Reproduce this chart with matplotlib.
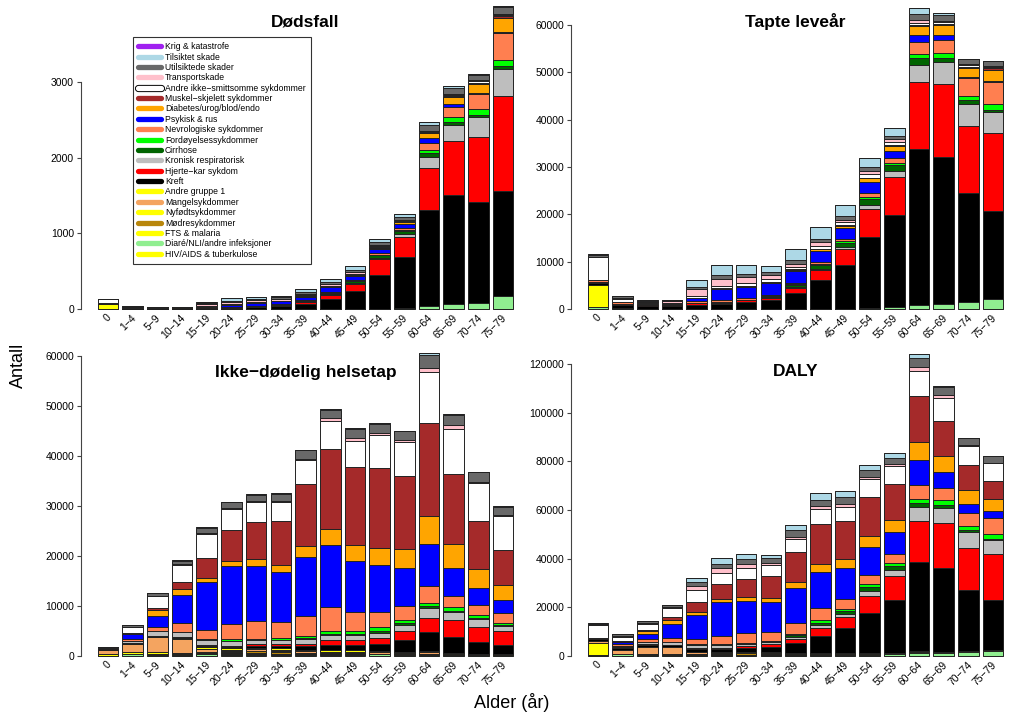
import matplotlib
matplotlib.use('Agg')
import matplotlib.pyplot as plt
import matplotlib.patheffects as pe
from matplotlib.lines import Line2D
from matplotlib.transforms import offset_copy

plt.rcParams['font.family'] = ['Liberation Sans', 'DejaVu Sans']

W, H = 1024, 728

ages = ['0', '1−4', '5−9', '10−14', '15−19', '20−24', '25−29', '30−34', '35−39',
        '40−44', '45−49', '50−54', '55−59', '60−64', '65−69', '70−74', '75−79']

# kategorier fra bunn til topp i stabelen
categories = ['HIV/AIDS & tuberkulose', 'Diaré/NLI/andre infeksjoner', 'FTS & malaria',
              'Mødresykdommer', 'Nyfødtsykdommer', 'Mangelsykdommer', 'Andre gruppe 1',
              'Kreft', 'Hjerte−kar sykdom', 'Kronisk respiratorisk', 'Cirrhose',
              'Fordøyelsessykdommer', 'Nevrologiske sykdommer', 'Psykisk & rus',
              'Diabetes/urog/blod/endo', 'Muskel−skjelett sykdommer',
              'Andre ikke−smittsomme sykdommer', 'Transportskade', 'Utilsiktede skader',
              'Tilsiktet skade', 'Krig & katastrofe']
colors = ['#FFFF00', '#90EE90', '#FFFF00', '#B8860B', '#FFFF00', '#F4A460', '#FFFF00',
          '#000000', '#FF0000', '#BEBEBE', '#006400', '#00FF00', '#FF7F50', '#0000FF',
          '#FFA500', '#A52A2A', '#FFFFFF', '#FFC0CB', '#696969', '#ADD8E6', '#A020F0']

# --- Dødsfall ---
dod_hiv = [0] * 17
dod_diare = [3, 2, 1, 0, 0, 0, 0, 0, 0, 0, 0, 5, 10, 40, 66, 84, 172]
dod_fts = [0] * 17
dod_modre = [0] * 17
dod_nyfodt = [60, 1, 0, 0, 0, 0, 0, 0, 0, 0, 0, 0, 0, 0, 0, 0, 0]
dod_mangel = [0] * 17
dod_andre1 = [3, 0, 0, 0, 0, 0, 0, 0, 0, 0, 0, 0, 0, 0, 0, 0, 0]
dod_kreft = [5, 8, 10, 10, 12, 18, 25, 40, 70, 132, 242, 440, 680, 1270, 1441, 1335, 1388]
dod_hjerte = [4, 2, 1, 2, 4, 5, 7, 10, 25, 53, 88, 210, 265, 551, 718, 859, 1260]
dod_kron = [0, 0, 0, 0, 1, 2, 2, 3, 5, 10, 20, 25, 35, 145, 207, 256, 348]
dod_cirr = [0, 0, 0, 0, 0, 0, 1, 3, 8, 15, 20, 30, 40, 53, 44, 31, 44]
dod_ford = [0, 0, 0, 0, 0, 1, 2, 2, 3, 5, 5, 10, 15, 44, 66, 75, 79]
dod_nevro = [4, 6, 5, 6, 6, 7, 8, 8, 8, 10, 10, 20, 25, 88, 123, 203, 361]
dod_psyk = [0, 0, 0, 1, 8, 25, 35, 35, 45, 62, 53, 55, 50, 66, 44, 10, 10]
dod_diab = [0, 0, 0, 1, 2, 3, 3, 3, 5, 8, 10, 15, 25, 66, 97, 123, 189]
dod_musk = [0, 0, 0, 0, 0, 1, 1, 2, 2, 3, 5, 5, 5, 10, 10, 15, 15]
dod_andre_ikke = [55, 8, 4, 4, 5, 6, 6, 6, 8, 8, 10, 15, 15, 15, 12, 20, 20]
dod_transp = [1, 3, 3, 4, 25, 28, 25, 20, 25, 20, 20, 20, 15, 10, 9, 9, 9]
dod_utils = [2, 5, 3, 3, 10, 15, 22, 20, 25, 30, 35, 35, 40, 75, 79, 75, 101]
dod_tilsikt = [0, 0, 0, 2, 20, 30, 25, 20, 30, 40, 44, 35, 35, 44, 31, 10, 5]
dod_krig = [0] * 17

# --- Tapte leveår ---
yll_hiv = [0] * 17
yll_diare = [500, 150, 0, 0, 0, 0, 0, 0, 0, 50, 100, 200, 500, 920, 1130, 1410, 2110]
yll_fts = [0] * 17
yll_modre = [0] * 17
yll_nyfodt = [4500, 0, 0, 0, 0, 0, 0, 0, 0, 0, 0, 0, 0, 0, 0, 0, 0]
yll_mangel = [0] * 17
yll_andre1 = [0] * 17
yll_kreft = [500, 700, 700, 650, 900, 1000, 1400, 1800, 3400, 6000, 9100, 15000, 19400, 32900, 31000, 23100, 18500]
yll_hjerte = [200, 150, 50, 100, 300, 300, 400, 600, 1050, 2100, 3500, 6000, 7900, 14100, 15500, 14200, 16550]
yll_kron = [50, 0, 0, 0, 50, 50, 50, 50, 150, 300, 400, 850, 1400, 3700, 4500, 4650, 4450]
yll_cirr = [0, 0, 0, 0, 0, 50, 100, 150, 450, 800, 900, 1250, 1270, 1400, 900, 700, 500]
yll_ford = [0, 0, 0, 0, 0, 50, 50, 50, 150, 300, 300, 400, 400, 850, 1050, 1000, 1250]
yll_nevro = [300, 500, 350, 300, 400, 450, 400, 350, 300, 400, 500, 850, 1000, 2450, 2800, 3700, 4700]
yll_psyk = [0, 0, 0, 50, 600, 2250, 2300, 2500, 2500, 2300, 2300, 2200, 1600, 1600, 1050, 200, 150]
yll_diab = [0, 0, 0, 0, 100, 200, 200, 250, 300, 400, 500, 850, 1000, 1900, 2100, 1900, 2250]
yll_musk = [0, 0, 0, 0, 0, 50, 50, 50, 50, 100, 100, 150, 200, 250, 250, 350, 350]
yll_andre_ikke = [4900, 600, 200, 200, 300, 400, 500, 500, 500, 600, 600, 800, 700, 250, 250, 350, 350]
yll_transp = [100, 250, 200, 300, 1500, 1600, 1250, 800, 700, 800, 600, 500, 500, 700, 400, 200, 100]
yll_utils = [300, 400, 250, 200, 600, 700, 700, 700, 900, 700, 800, 900, 700, 1250, 1200, 1050, 1050]
yll_tilsikt = [200, 0, 50, 150, 1400, 2250, 2000, 1300, 2300, 2500, 2300, 1900, 1600, 1250, 500, 100, 100]
yll_krig = [0] * 17

# --- Ikke-dødelig helsetap ---
yld_hiv = [0, 0, 0, 0, 100, 150, 150, 150, 150, 150, 150, 100, 100, 100, 50, 50, 50]
yld_diare = [100, 500, 300, 300, 300, 300, 300, 250, 250, 250, 250, 250, 200, 200, 150, 100, 100]
yld_fts = [0, 0, 100, 100, 100, 100, 100, 100, 100, 100, 100, 100, 50, 50, 50, 50, 50]
yld_modre = [0, 0, 0, 0, 100, 300, 500, 400, 200, 100, 50, 0, 0, 0, 0, 0, 0]
yld_nyfodt = [300, 300, 400, 300, 200, 100, 50, 50, 0, 0, 0, 0, 0, 0, 0, 0, 0]
yld_mangel = [800, 1600, 3000, 2800, 700, 300, 300, 300, 300, 300, 300, 300, 300, 400, 200, 150, 100]
yld_andre1 = [50, 100, 100, 150, 300, 300, 300, 300, 300, 300, 300, 200, 200, 200, 100, 100, 100]
yld_kreft = [50, 50, 100, 150, 200, 250, 350, 450, 700, 1000, 1100, 1500, 2400, 3800, 3300, 2300, 1900]
yld_hjerte = [20, 50, 50, 100, 200, 250, 300, 350, 500, 1000, 900, 1100, 1700, 2850, 3300, 3100, 2650]
yld_kron = [0, 400, 900, 900, 1100, 1000, 800, 800, 900, 1000, 1000, 1100, 1300, 2100, 1700, 1650, 1100]
yld_cirr = [0, 0, 0, 0, 0, 50, 50, 100, 150, 250, 300, 400, 400, 300, 200, 150, 100]
yld_ford = [0, 50, 50, 100, 200, 300, 300, 350, 400, 600, 600, 700, 600, 700, 800, 550, 450]
yld_nevro = [200, 300, 850, 1650, 1800, 3100, 3450, 3300, 4000, 4800, 3700, 3100, 2800, 3300, 2200, 2000, 2100]
yld_psyk = [0, 1000, 2250, 5650, 9500, 11500, 11000, 9900, 11800, 12400, 10200, 9300, 7500, 8500, 5600, 3450, 2500]
yld_diab = [0, 100, 1050, 1300, 870, 1050, 1400, 1450, 2200, 3100, 3200, 3500, 3800, 5600, 4700, 3850, 3000]
yld_musk = [0, 100, 450, 1300, 4000, 6250, 7450, 8850, 12400, 16100, 15600, 15900, 14600, 18600, 14100, 9600, 7000]
yld_andre_ikke = [300, 1300, 2450, 3500, 4800, 4200, 4000, 3800, 4850, 5500, 5300, 6600, 6800, 10200, 9000, 7600, 6800]
yld_transp = [0, 50, 50, 100, 200, 200, 200, 200, 250, 650, 650, 550, 450, 650, 800, 150, 150]
yld_utils = [0, 300, 450, 700, 1000, 1100, 1300, 1350, 1700, 1700, 1800, 1800, 1800, 2700, 2000, 1900, 1750]
yld_tilsikt = [0, 0, 0, 50, 100, 100, 100, 100, 100, 150, 150, 150, 100, 300, 100, 50, 50]
yld_krig = [0] * 17

# --- DALY ---
daly_hiv = [0, 0, 0, 0, 100, 150, 150, 150, 150, 150, 150, 100, 100, 100, 50, 50, 50]
daly_diare = [600, 650, 300, 300, 300, 300, 300, 250, 250, 300, 350, 450, 700, 1120, 1280, 1510, 2210]
daly_fts = [0, 0, 100, 100, 100, 100, 100, 100, 100, 100, 100, 100, 50, 50, 50, 50, 50]
daly_modre = [0, 0, 0, 0, 100, 300, 500, 400, 200, 100, 50, 0, 0, 0, 0, 0, 0]
daly_nyfodt = [4800, 300, 400, 300, 200, 100, 50, 50, 0, 0, 0, 0, 0, 0, 0, 0, 0]
daly_mangel = [800, 1600, 3000, 2800, 700, 300, 300, 300, 300, 300, 300, 300, 300, 400, 200, 150, 100]
daly_andre1 = [50, 100, 100, 150, 300, 300, 300, 300, 300, 300, 300, 200, 200, 200, 100, 100, 100]
daly_kreft = [550, 750, 800, 800, 1100, 1250, 1750, 2250, 4100, 7000, 10200, 16500, 21800, 36700, 34300, 25400, 20400]
daly_hjerte = [220, 200, 100, 200, 500, 550, 700, 950, 1550, 3100, 4400, 7100, 9600, 16950, 18800, 17300, 19200]
daly_kron = [50, 400, 900, 900, 1150, 1050, 850, 850, 1050, 1300, 1400, 1950, 2700, 5800, 6200, 6300, 5550]
daly_cirr = [0, 0, 0, 0, 0, 100, 150, 250, 600, 1050, 1200, 1650, 1670, 1700, 1100, 850, 600]
daly_ford = [0, 50, 50, 100, 200, 350, 350, 400, 550, 900, 900, 1100, 1000, 1550, 1850, 1550, 1700]
daly_nevro = [500, 800, 1200, 1950, 2200, 3550, 3850, 3650, 4300, 5200, 4200, 3950, 3800, 5750, 5000, 5700, 6800]
daly_psyk = [0, 1000, 2250, 5700, 10100, 13750, 13300, 12400, 14300, 14700, 12500, 11500, 9100, 10100, 6650, 3650, 2650]
daly_diab = [0, 100, 1050, 1300, 970, 1250, 1600, 1700, 2500, 3500, 3700, 4350, 4800, 7500, 6800, 5750, 5250]
daly_musk = [0, 100, 450, 1300, 4000, 6300, 7500, 8900, 12450, 16200, 15700, 16050, 14800, 18850, 14350, 9950, 7350]
daly_andre_ikke = [5200, 1900, 2650, 3700, 5100, 4600, 4500, 4300, 5350, 6100, 5900, 7400, 7500, 10450, 9250, 7950, 7150]
daly_transp = [100, 300, 250, 400, 1700, 1800, 1450, 1000, 950, 1450, 1250, 1050, 950, 1350, 1200, 350, 250]
daly_utils = [300, 700, 700, 900, 1600, 1800, 2000, 2050, 2600, 2400, 2600, 2700, 2500, 3950, 3200, 2950, 2800]
daly_tilsikt = [200, 0, 50, 200, 1500, 2350, 2100, 1400, 2400, 2650, 2450, 2050, 1700, 1550, 600, 150, 150]
daly_krig = [0] * 17

dodsfall = [dod_hiv, dod_diare, dod_fts, dod_modre, dod_nyfodt, dod_mangel, dod_andre1,
            dod_kreft, dod_hjerte, dod_kron, dod_cirr, dod_ford, dod_nevro, dod_psyk,
            dod_diab, dod_musk, dod_andre_ikke, dod_transp, dod_utils, dod_tilsikt, dod_krig]
tapte = [yll_hiv, yll_diare, yll_fts, yll_modre, yll_nyfodt, yll_mangel, yll_andre1,
         yll_kreft, yll_hjerte, yll_kron, yll_cirr, yll_ford, yll_nevro, yll_psyk,
         yll_diab, yll_musk, yll_andre_ikke, yll_transp, yll_utils, yll_tilsikt, yll_krig]
helsetap = [yld_hiv, yld_diare, yld_fts, yld_modre, yld_nyfodt, yld_mangel, yld_andre1,
            yld_kreft, yld_hjerte, yld_kron, yld_cirr, yld_ford, yld_nevro, yld_psyk,
            yld_diab, yld_musk, yld_andre_ikke, yld_transp, yld_utils, yld_tilsikt, yld_krig]
daly = [daly_hiv, daly_diare, daly_fts, daly_modre, daly_nyfodt, daly_mangel, daly_andre1,
        daly_kreft, daly_hjerte, daly_kron, daly_cirr, daly_ford, daly_nevro, daly_psyk,
        daly_diab, daly_musk, daly_andre_ikke, daly_transp, daly_utils, daly_tilsikt, daly_krig]

fig = plt.figure(figsize=(W / 100, H / 100), dpi=100)

# panel: (data, tittel, venstre px, topp px, bunn px, null px, px per enhet, yticks)
panels = [
    (dodsfall, 'Dødsfall', 81, 0, 321, 309, 227 / 3000, range(0, 3001, 1000)),
    (tapte, 'Tapte leveår', 571, 0, 321, 309, 284 / 60000, range(0, 60001, 10000)),
    (helsetap, 'Ikke−dødelig helsetap', 81, 340, 668, 656, 300 / 60000, range(0, 60001, 10000)),
    (daly, 'DALY', 571, 340, 668, 656, 292 / 120000, range(0, 120001, 20000)),
]

bar_step = 24.7
xlim = (-1.09, 17.09)
x = list(range(len(ages)))

for data, title, left, top, bottom, zero, ppu, yticks in panels:
    width_px = (xlim[1] - xlim[0]) * bar_step
    ax = fig.add_axes([left / W, 1 - bottom / H, width_px / W, (bottom - top) / H])

    cum = [0] * len(ages)
    for vals, c in zip(data, colors):
        ax.bar(x, vals, bottom=cum, width=0.8333, color=c, edgecolor='#222222', linewidth=0.7)
        cum = [a + b for a, b in zip(cum, vals)]

    ax.set_xlim(xlim)
    ax.set_ylim(-(bottom - zero) / ppu, (zero - top) / ppu)

    for s in ['top', 'right', 'bottom']:
        ax.spines[s].set_visible(False)
    ax.spines['left'].set_bounds(min(yticks), max(yticks))
    ax.spines['left'].set_color('#444444')
    ax.spines['left'].set_linewidth(0.8)
    ax.set_yticks(list(yticks))
    ax.tick_params(axis='y', direction='out', length=3, width=0.8, color='#444444',
                   labelsize=7.5, pad=2)
    ax.set_xticks([])

    # aldersgrupper, rotert 45 grader
    trans = offset_copy(ax.transData, fig=fig, x=2, y=-7, units='dots')
    for i, lab in enumerate(ages):
        ax.text(i, 0, lab, transform=trans, rotation=45, ha='right', va='center',
                rotation_mode='anchor', fontsize=7.5)

    fig.text((left + width_px / 2) / W, 1 - (top + 22 if top == 0 else top + 32) / H, title,
             ha='center', va='center', fontsize=12.5, fontweight='bold')

# forklaring
handles = []
for c, lab in zip(colors[::-1], categories[::-1]):
    h = Line2D([0], [0], color=c, lw=3.8, solid_capstyle='round')
    if c == '#FFFFFF':
        h.set_path_effects([pe.Stroke(linewidth=5.2, foreground='black'), pe.Normal()])
    handles.append(h)
leg = fig.legend(handles=handles, labels=categories[::-1], loc='upper left',
                 bbox_to_anchor=(133 / W, 1 - 37 / H), bbox_transform=fig.transFigure,
                 fontsize=6.2, frameon=True, fancybox=False, borderaxespad=0,
                 handlelength=2.6, handletextpad=0.5, labelspacing=0.16, borderpad=0.6)
leg.get_frame().set_edgecolor('black')
leg.get_frame().set_linewidth(0.8)

fig.text(18 / W, 1 - 365 / H, 'Antall', rotation=90, ha='center', va='center', fontsize=13)
fig.text(512 / W, 1 - 703 / H, 'Alder (år)', ha='center', va='center', fontsize=13)

fig.savefig('out.png', dpi=100)
